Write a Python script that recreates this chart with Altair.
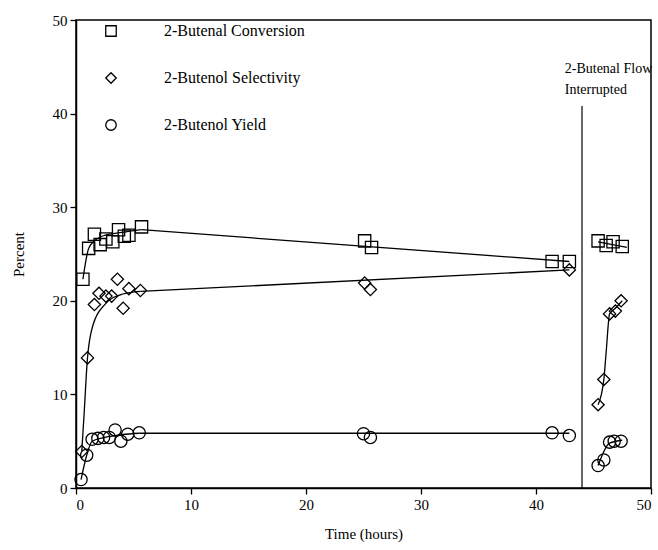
import altair as alt
import pandas as pd

SERIES = ["2-Butenal Conversion", "2-Butenol Selectivity", "2-Butenol Yield"]

# measured points
conv_t = [0.6, 1.1, 1.6, 2.1, 2.6, 3.2, 3.7, 4.2, 4.6, 5.7, 25.1, 25.7, 41.4, 42.9, 45.4, 46.1, 46.7, 47.5]
conv_v = [22.3, 25.6, 27.1, 26.0, 26.6, 26.3, 27.6, 26.9, 27.0, 27.9, 26.4, 25.7, 24.2, 24.2, 26.4, 25.9, 26.3, 25.8]

sel_t = [0.5, 1.0, 1.6, 2.0, 2.6, 3.1, 3.6, 4.1, 4.6, 5.6, 25.1, 25.6, 42.9, 45.4, 45.9, 46.4, 46.9, 47.4]
sel_v = [3.9, 13.9, 19.6, 20.8, 20.5, 20.5, 22.3, 19.2, 21.3, 21.1, 21.9, 21.2, 23.3, 8.9, 11.6, 18.6, 18.9, 20.0]

yld_t = [0.44, 0.93, 1.4, 1.9, 2.4, 2.9, 3.4, 3.9, 4.5, 5.5, 25.0, 25.6, 41.4, 42.9, 45.4, 45.9, 46.4, 46.8, 47.4]
yld_v = [0.9, 3.5, 5.2, 5.3, 5.4, 5.4, 6.2, 5.0, 5.75, 5.9, 5.8, 5.4, 5.9, 5.6, 2.4, 3.0, 4.9, 5.0, 5.0]

# fitted curves as drawn: curved early parts, straight long parts
conv_curve_t = [0.6, 1.1, 1.6, 2.5, 4.0, 5.7]
conv_curve_v = [22.3, 25.6, 26.4, 27.0, 27.3, 27.6]
conv_straight_t = [5.7, 42.9]
conv_straight_v = [27.6, 24.2]
conv_after_t = [45.4, 47.9]
conv_after_v = [26.3, 25.7]

sel_curve_t = [0.5, 0.7, 1.0, 1.5, 2.5, 4.0, 5.6]
sel_curve_v = [3.9, 7.8, 13.9, 17.5, 19.6, 20.7, 21.0]
sel_straight_t = [5.6, 42.9]
sel_straight_v = [21.0, 23.3]
sel_after_t = [45.4, 45.9, 46.1, 46.4, 46.9, 47.5]
sel_after_v = [8.9, 11.6, 14.5, 18.6, 19.2, 20.0]

yld_curve_t = [0.44, 0.93, 1.4, 2.5, 4.0, 5.5]
yld_curve_v = [0.9, 3.5, 5.0, 5.4, 5.7, 5.85]
yld_straight_t = [5.5, 42.9]
yld_straight_v = [5.85, 5.85]
yld_after_t = [45.4, 46.4, 47.5]
yld_after_v = [2.4, 4.8, 5.1]

interrupt_t = [44.0]
interrupt_bottom = [0.0]
interrupt_top = [40.8]
note_lines = ["2-Butenal Flow", "Interrupted"]
note_t = [42.5, 42.5]
note_v = [44.3, 42.1]

FONT = "Liberation Serif"

pts = pd.concat([
    pd.DataFrame({"t": conv_t, "v": conv_v, "series": SERIES[0]}),
    pd.DataFrame({"t": sel_t, "v": sel_v, "series": SERIES[1]}),
    pd.DataFrame({"t": yld_t, "v": yld_v, "series": SERIES[2]}),
])

curves = pd.concat([
    pd.DataFrame({"t": conv_curve_t, "v": conv_curve_v, "seg": "c1"}),
    pd.DataFrame({"t": conv_after_t, "v": conv_after_v, "seg": "c2"}),
    pd.DataFrame({"t": sel_curve_t, "v": sel_curve_v, "seg": "s1"}),
    pd.DataFrame({"t": sel_after_t, "v": sel_after_v, "seg": "s2"}),
    pd.DataFrame({"t": yld_curve_t, "v": yld_curve_v, "seg": "y1"}),
    pd.DataFrame({"t": yld_after_t, "v": yld_after_v, "seg": "y2"}),
])
straights = pd.concat([
    pd.DataFrame({"t": conv_straight_t, "v": conv_straight_v, "seg": "c"}),
    pd.DataFrame({"t": sel_straight_t, "v": sel_straight_v, "seg": "s"}),
    pd.DataFrame({"t": yld_straight_t, "v": yld_straight_v, "seg": "y"}),
])

xscale = alt.Scale(domain=[0, 50], nice=False)
yscale = alt.Scale(domain=[0, 50], nice=False)
xaxis = alt.Axis(values=[0, 10, 20, 30, 40, 50], title="Time (hours)", titlePadding=14)
yaxis = alt.Axis(values=[0, 10, 20, 30, 40, 50], title="Percent", titlePadding=26)

curve_lines = alt.Chart(curves).mark_line(color="black", strokeWidth=1.3, interpolate="monotone").encode(
    x=alt.X("t:Q", scale=xscale, axis=xaxis),
    y=alt.Y("v:Q", scale=yscale, axis=yaxis),
    detail="seg:N",
)
straight_lines = alt.Chart(straights).mark_line(color="black", strokeWidth=1.3).encode(
    x=alt.X("t:Q", scale=xscale),
    y=alt.Y("v:Q", scale=yscale),
    detail="seg:N",
)

points = alt.Chart(pts).mark_point(filled=False, color="black", strokeWidth=1.3, size=150, opacity=1).encode(
    x=alt.X("t:Q", scale=xscale),
    y=alt.Y("v:Q", scale=yscale),
    shape=alt.Shape("series:N",
                    scale=alt.Scale(domain=SERIES, range=["square", "diamond", "circle"]),
                    legend=alt.Legend(title=None, orient="none", legendX=27, legendY=3,
                                      labelFont=FONT, labelFontSize=16, labelColor="black",
                                      symbolSize=110, symbolStrokeColor="black",
                                      symbolStrokeWidth=1.3, symbolFillColor="transparent",
                                      rowPadding=31, labelOffset=45)),
)

rule = alt.Chart(pd.DataFrame({"t": interrupt_t, "bottom": interrupt_bottom, "top": interrupt_top})).mark_rule(
    color="black", strokeWidth=1.2).encode(
    x=alt.X("t:Q", scale=xscale),
    y=alt.Y("bottom:Q", scale=yscale),
    y2=alt.Y2("top:Q"),
)

note = alt.Chart(pd.DataFrame({"t": note_t, "v": note_v, "txt": note_lines})).mark_text(
    align="left", baseline="alphabetic", font=FONT, fontSize=14, color="black").encode(
    x=alt.X("t:Q", scale=xscale),
    y=alt.Y("v:Q", scale=yscale),
    text="txt:N",
)

chart = alt.layer(curve_lines, straight_lines, points, rule, note).properties(
    width=658, height=550,
    background="white",
    autosize=alt.AutoSizeParams(type="fit", contains="padding"),
    padding={"left": 11, "top": 13, "right": 6, "bottom": 9},
).configure_view(
    stroke="black", strokeWidth=1.5
).configure_axis(
    grid=False, domainColor="black", domainWidth=1.5, tickColor="black", tickSize=6,
    tickWidth=1.3, labelFont=FONT, labelFontSize=15, labelColor="black",
    titleFont=FONT, titleFontSize=15, titleFontWeight="normal", titleColor="black",
    labelPadding=3,
)

chart.save("out.html", embed_options={"renderer": "svg", "actions": False})
